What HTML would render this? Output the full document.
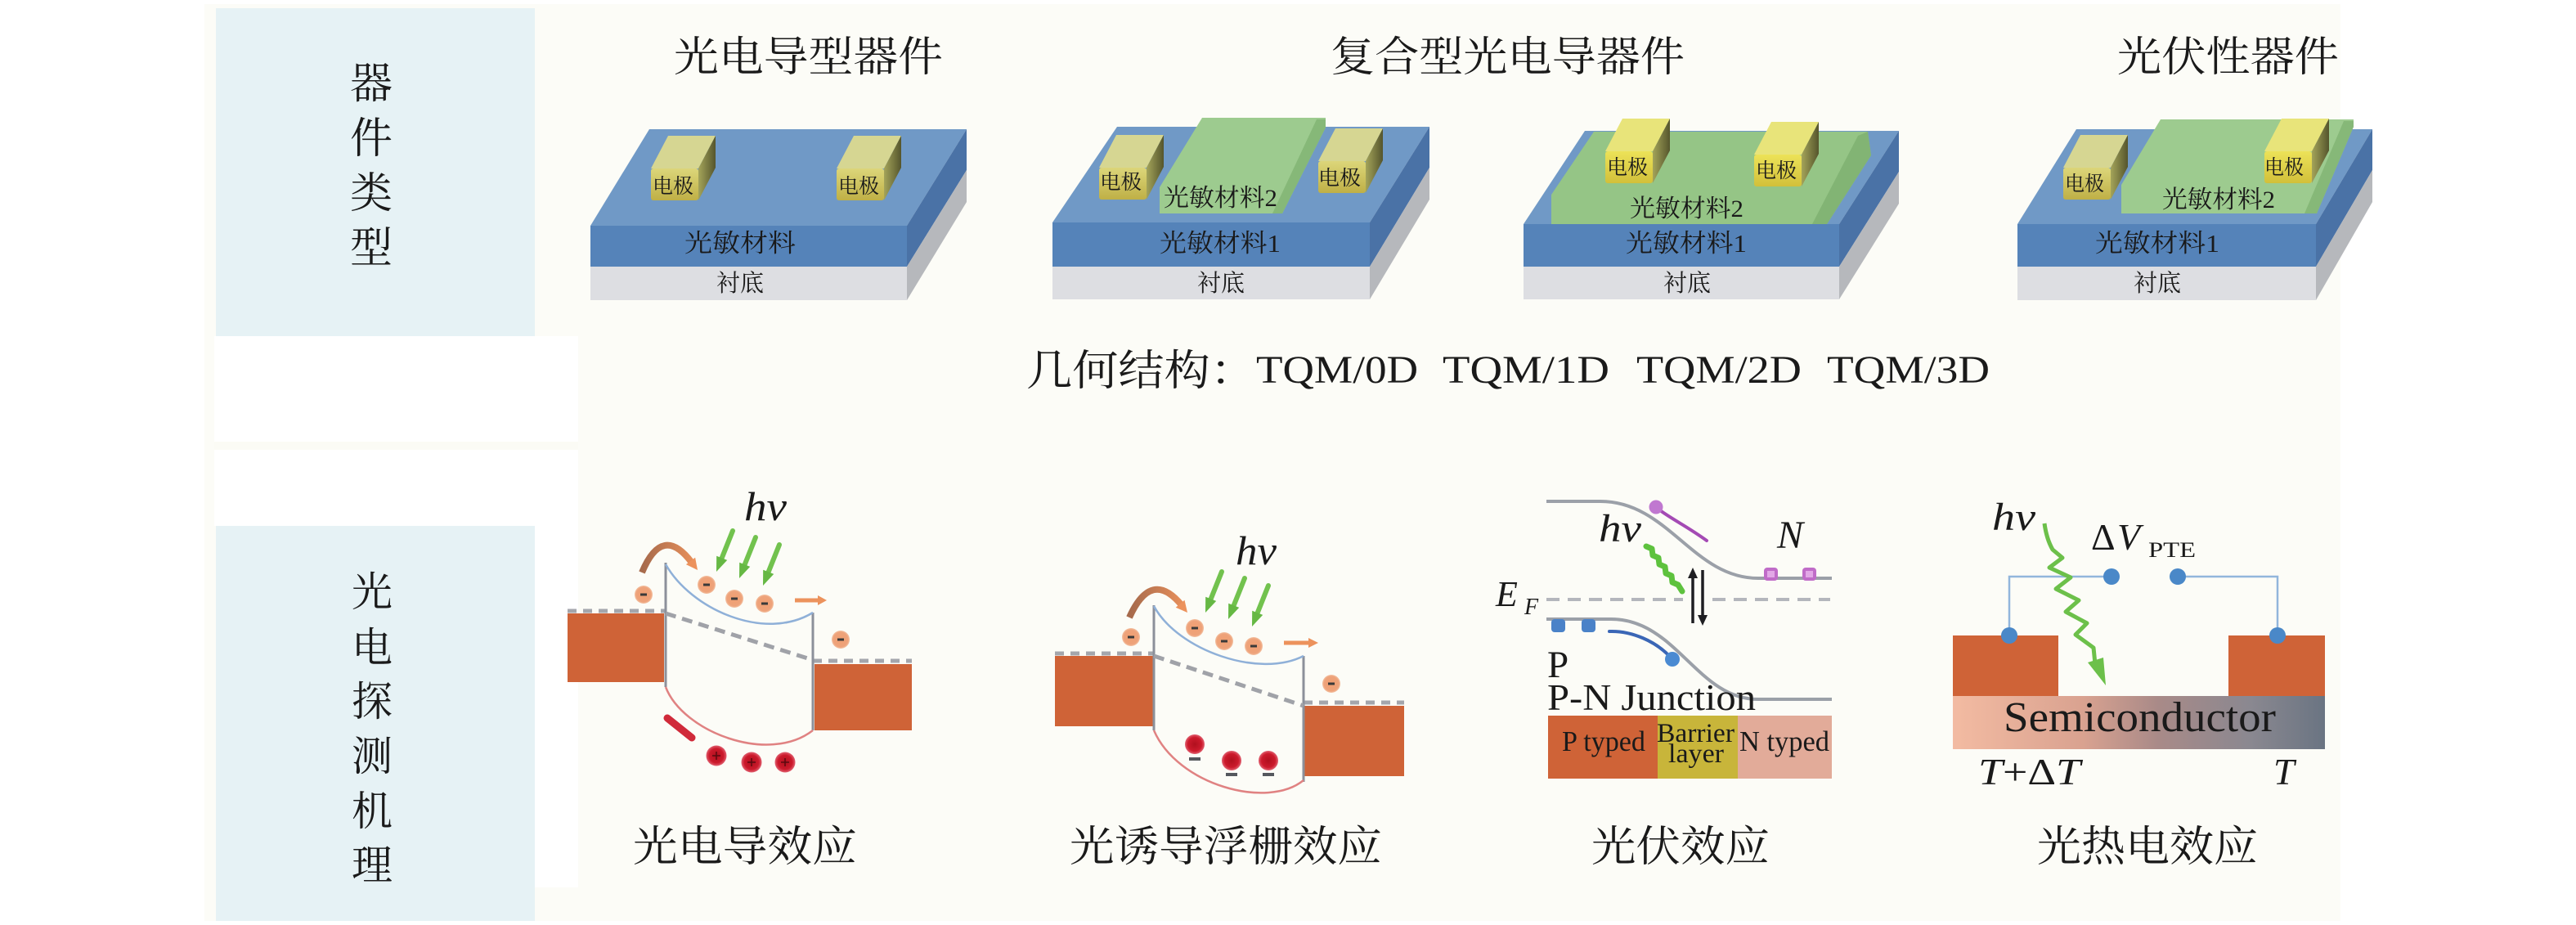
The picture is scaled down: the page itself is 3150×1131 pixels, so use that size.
<!DOCTYPE html>
<html>
<head>
<meta charset="utf-8">
<style>
html,body{margin:0;padding:0;background:#ffffff;}
svg{display:block;}
.cn{font-family:"Liberation Serif","Noto Serif CJK SC",serif;fill:#1a1a1a;}
.lt{font-family:"Liberation Serif",serif;fill:#1a1a1a;}
.it{font-family:"Liberation Serif",serif;font-style:italic;fill:#1a1a1a;}
</style>
</head>
<body>
<svg width="3150" height="1131" viewBox="0 0 3150 1131" xmlns="http://www.w3.org/2000/svg">
<defs>
  <linearGradient id="elR" x1="0" y1="0" x2="1" y2="0">
    <stop offset="0" stop-color="#a4a45a"/>
    <stop offset="1" stop-color="#55552c"/>
  </linearGradient>
  <linearGradient id="elF" x1="0" y1="0" x2="0" y2="1">
    <stop offset="0" stop-color="#dcd67a"/>
    <stop offset="1" stop-color="#bfb046"/>
  </linearGradient>
  <linearGradient id="elFb" x1="0" y1="0" x2="0" y2="1">
    <stop offset="0" stop-color="#ece258"/>
    <stop offset="1" stop-color="#d2c03a"/>
  </linearGradient>
  <linearGradient id="semi" x1="0" y1="0" x2="1" y2="0">
    <stop offset="0" stop-color="#f3bba2"/>
    <stop offset="0.35" stop-color="#d9a290"/>
    <stop offset="0.55" stop-color="#a98a88"/>
    <stop offset="0.8" stop-color="#8a8890"/>
    <stop offset="1" stop-color="#6a7482"/>
  </linearGradient>
  <linearGradient id="arc1" gradientUnits="userSpaceOnUse" x1="785" y1="0" x2="853" y2="0">
    <stop offset="0" stop-color="#a66a4c"/>
    <stop offset="1" stop-color="#ec925c"/>
  </linearGradient>
  <linearGradient id="arc2" gradientUnits="userSpaceOnUse" x1="1381" y1="0" x2="1452" y2="0">
    <stop offset="0" stop-color="#a66a4c"/>
    <stop offset="1" stop-color="#ec925c"/>
  </linearGradient>
  <radialGradient id="hole" cx="0.5" cy="0.5" r="0.5">
    <stop offset="0" stop-color="#b0101e"/>
    <stop offset="0.7" stop-color="#cc1a2c"/>
    <stop offset="1" stop-color="#e06070"/>
  </radialGradient>
  <radialGradient id="elec" cx="0.5" cy="0.5" r="0.5">
    <stop offset="0" stop-color="#f0a072"/>
    <stop offset="0.8" stop-color="#eea27a"/>
    <stop offset="1" stop-color="#f3c0a0"/>
  </radialGradient>
</defs>

<!-- backgrounds -->
<rect x="250" y="5" width="2612" height="1121" fill="#fcfcf7"/>
<rect x="262" y="411" width="445" height="232" fill="#ffffff"/>
<rect x="262" y="540" width="445" height="10" fill="#fbfbf5"/>
<rect x="654" y="643" width="53" height="442" fill="#ffffff"/>
<rect x="264" y="10" width="390" height="401" fill="#e6f2f5"/>
<rect x="264" y="643" width="390" height="483" fill="#e6f2f5"/>

<!-- left panel labels -->
<g class="cn" font-size="52" text-anchor="middle">
  <text x="454" y="120">器</text>
  <text x="454" y="187">件</text>
  <text x="454" y="254">类</text>
  <text x="454" y="321">型</text>
</g>
<g class="cn" font-size="50" text-anchor="middle">
  <text x="455" y="741">光</text>
  <text x="455" y="809">电</text>
  <text x="455" y="875">探</text>
  <text x="455" y="942">测</text>
  <text x="455" y="1009">机</text>
  <text x="455" y="1075">理</text>
</g>

<!-- titles -->
<text class="cn" x="824" y="87" font-size="51" textLength="329" lengthAdjust="spacingAndGlyphs">光电导型器件</text>
<text class="cn" x="1627" y="87" font-size="51" textLength="433" lengthAdjust="spacingAndGlyphs">复合型光电导器件</text>
<text class="cn" x="2589" y="87" font-size="51" textLength="271" lengthAdjust="spacingAndGlyphs">光伏性器件</text>

<!-- ===== Device 1 ===== -->
<polygon points="794,158 1182,158 1109,276 722,276" fill="#7099c6"/>
<rect x="722" y="276" width="387" height="50" fill="#5583b9"/>
<polygon points="1109,276 1182,158 1182,208 1109,326" fill="#4a72a6"/>
<rect x="722" y="326" width="387" height="41" fill="#dddee2"/>
<polygon points="1109,326 1182,208 1182,247 1109,367" fill="#b6b8bc"/>
<g transform="translate(796,245)">
  <polygon points="0,-39 58,-39 79,-79 21,-79" fill="#d6d692"/>
  <polygon points="58,-39 79,-79 79,-40 58,0" fill="url(#elR)"/>
  <rect x="0" y="-39" width="58" height="39" rx="3" fill="url(#elF)"/>
</g>
<g transform="translate(1023,245)">
  <polygon points="0,-39 58,-39 79,-79 21,-79" fill="#d6d692"/>
  <polygon points="58,-39 79,-79 79,-40 58,0" fill="url(#elR)"/>
  <rect x="0" y="-39" width="58" height="39" rx="3" fill="url(#elF)"/>
</g>
<text class="cn" x="798" y="236" font-size="25" textLength="50" lengthAdjust="spacingAndGlyphs">电极</text>
<text class="cn" x="1025" y="236" font-size="25" textLength="50" lengthAdjust="spacingAndGlyphs">电极</text>
<text class="cn" x="837" y="308" font-size="31" textLength="136" lengthAdjust="spacingAndGlyphs">光敏材料</text>
<text class="cn" x="876" y="356" font-size="29" textLength="58" lengthAdjust="spacingAndGlyphs">衬底</text>

<!-- ===== Device 2 ===== -->
<polygon points="1366,155 1748,155 1675,272 1287,272" fill="#7099c6"/>
<rect x="1287" y="272" width="388" height="54" fill="#5583b9"/>
<polygon points="1675,272 1748,155 1748,205 1675,326" fill="#4a72a6"/>
<rect x="1287" y="326" width="388" height="40" fill="#dddee2"/>
<polygon points="1675,326 1748,205 1748,244 1675,366" fill="#b6b8bc"/>
<g transform="translate(1344,244)">
  <polygon points="0,-39 58,-39 79,-79 21,-79" fill="#d6d692"/>
  <polygon points="58,-39 79,-79 79,-40 58,0" fill="url(#elR)"/>
  <rect x="0" y="-39" width="58" height="39" rx="3" fill="url(#elF)"/>
</g>
<g transform="translate(1612,236)">
  <polygon points="0,-39 58,-39 79,-79 21,-79" fill="#d6d692"/>
  <polygon points="58,-39 79,-79 79,-40 58,0" fill="url(#elR)"/>
  <rect x="0" y="-39" width="58" height="39" rx="3" fill="url(#elF)"/>
</g>
<polygon points="1470,144 1621,144 1621,156 1568,261 1418,261 1418,229" fill="#9dcb8f"/>
<polygon points="1610,146 1621,146 1621,156 1568,261 1556,261" fill="#86b878"/>
<text class="cn" x="1345" y="231" font-size="25" textLength="51" lengthAdjust="spacingAndGlyphs">电极</text>
<text class="cn" x="1612" y="226" font-size="25" textLength="52" lengthAdjust="spacingAndGlyphs">电极</text>
<text class="cn" x="1423" y="252" font-size="30" textLength="139" lengthAdjust="spacingAndGlyphs">光敏材料2</text>
<text class="cn" x="1418" y="308" font-size="31" textLength="148" lengthAdjust="spacingAndGlyphs">光敏材料1</text>
<text class="cn" x="1464" y="356" font-size="29" textLength="58" lengthAdjust="spacingAndGlyphs">衬底</text>

<!-- ===== Device 3 ===== -->
<polygon points="1938,160 2322,160 2249,274 1863,274" fill="#7099c6"/>
<rect x="1863" y="274" width="386" height="52" fill="#5583b9"/>
<polygon points="2249,274 2322,160 2322,210 2249,326" fill="#4a72a6"/>
<rect x="1863" y="326" width="386" height="40" fill="#dddee2"/>
<polygon points="2249,326 2322,210 2322,249 2249,366" fill="#b6b8bc"/>
<polygon points="1949,161 2284,161 2288,190 2234,274 1897,274 1897,238" fill="#95c586"/>
<polygon points="2272,166 2284,161 2288,190 2234,274 2216,274" fill="#82b474"/>
<g transform="translate(1963,224)">
  <polygon points="0,-39 58,-39 79,-79 21,-79" fill="#e8e47a"/>
  <polygon points="58,-39 79,-79 79,-40 58,0" fill="url(#elR)"/>
  <rect x="0" y="-39" width="58" height="39" rx="3" fill="url(#elFb)"/>
</g>
<g transform="translate(2145,228)">
  <polygon points="0,-39 58,-39 79,-79 21,-79" fill="#e8e47a"/>
  <polygon points="58,-39 79,-79 79,-40 58,0" fill="url(#elR)"/>
  <rect x="0" y="-39" width="58" height="39" rx="3" fill="url(#elFb)"/>
</g>
<text class="cn" x="1965" y="213" font-size="25" textLength="50" lengthAdjust="spacingAndGlyphs">电极</text>
<text class="cn" x="2147" y="217" font-size="25" textLength="50" lengthAdjust="spacingAndGlyphs">电极</text>
<text class="cn" x="1993" y="265" font-size="30" textLength="139" lengthAdjust="spacingAndGlyphs">光敏材料2</text>
<text class="cn" x="1988" y="308" font-size="31" textLength="148" lengthAdjust="spacingAndGlyphs">光敏材料1</text>
<text class="cn" x="2034" y="356" font-size="29" textLength="58" lengthAdjust="spacingAndGlyphs">衬底</text>

<!-- ===== Device 4 ===== -->
<polygon points="2539,158 2901,158 2832,274 2467,274" fill="#7099c6"/>
<rect x="2467" y="274" width="365" height="52" fill="#5583b9"/>
<polygon points="2832,274 2901,158 2901,208 2832,326" fill="#4a72a6"/>
<rect x="2467" y="326" width="365" height="41" fill="#dddee2"/>
<polygon points="2832,326 2901,208 2901,247 2832,367" fill="#b6b8bc"/>
<g transform="translate(2523,244)">
  <polygon points="0,-39 58,-39 79,-79 21,-79" fill="#d6d692"/>
  <polygon points="58,-39 79,-79 79,-40 58,0" fill="url(#elR)"/>
  <rect x="0" y="-39" width="58" height="39" rx="3" fill="url(#elF)"/>
</g>
<polygon points="2642,146 2878,146 2878,155 2833,261 2594,261 2594,226" fill="#9dcb8f"/>
<polygon points="2866,148 2878,148 2878,155 2833,261 2818,261" fill="#86b878"/>
<g transform="translate(2769,224)">
  <polygon points="0,-39 58,-39 79,-79 21,-79" fill="#e8e47a"/>
  <polygon points="58,-39 79,-79 79,-40 58,0" fill="url(#elR)"/>
  <rect x="0" y="-39" width="58" height="39" rx="3" fill="url(#elFb)"/>
</g>
<text class="cn" x="2525" y="233" font-size="25" textLength="48" lengthAdjust="spacingAndGlyphs">电极</text>
<text class="cn" x="2769" y="213" font-size="25" textLength="48" lengthAdjust="spacingAndGlyphs">电极</text>
<text class="cn" x="2644" y="254" font-size="30" textLength="138" lengthAdjust="spacingAndGlyphs">光敏材料2</text>
<text class="cn" x="2562" y="308" font-size="31" textLength="152" lengthAdjust="spacingAndGlyphs">光敏材料1</text>
<text class="cn" x="2609" y="356" font-size="29" textLength="58" lengthAdjust="spacingAndGlyphs">衬底</text>

<!-- geometry line -->
<text class="cn" x="1255" y="471" font-size="52" textLength="281" lengthAdjust="spacingAndGlyphs">几何结构：</text>
<text class="lt" x="1536" y="468" font-size="48" textLength="198" lengthAdjust="spacingAndGlyphs">TQM/0D</text>
<text class="lt" x="1764" y="468" font-size="48" textLength="204" lengthAdjust="spacingAndGlyphs">TQM/1D</text>
<text class="lt" x="2001" y="468" font-size="48" textLength="202" lengthAdjust="spacingAndGlyphs">TQM/2D</text>
<text class="lt" x="2234" y="468" font-size="48" textLength="199" lengthAdjust="spacingAndGlyphs">TQM/3D</text>

<!-- ===== Mechanism 1 ===== -->
<text class="it" x="910" y="636" font-size="50" textLength="52" lengthAdjust="spacingAndGlyphs">hv</text>
<rect x="694" y="750" width="118" height="84" fill="#cf6337"/>
<line x1="694" y1="747" x2="814" y2="747" stroke="#a4a6ac" stroke-width="5" stroke-dasharray="11 8"/>
<rect x="996" y="812" width="119" height="81" fill="#cf6337"/>
<line x1="994" y1="808" x2="1115" y2="808" stroke="#a4a6ac" stroke-width="5" stroke-dasharray="11 8"/>
<line x1="814" y1="688" x2="814" y2="840" stroke="#8c909a" stroke-width="3"/>
<line x1="994" y1="749" x2="994" y2="893" stroke="#8c909a" stroke-width="3"/>
<path d="M814,690 C845,745 935,785 994,749" fill="none" stroke="#8fb0d8" stroke-width="2.5"/>
<line x1="814" y1="750" x2="994" y2="807" stroke="#a0a2a8" stroke-width="5" stroke-dasharray="13 8"/>
<path d="M814,840 C835,895 940,935 994,893" fill="none" stroke="#e08282" stroke-width="2.5"/>
<path d="M785,700 Q810,640 846,688" fill="none" stroke="url(#arc1)" stroke-width="8"/>
<polygon points="853,697 850.1,681.7 838.9,690.1" fill="#ec925c"/>
<g stroke="#72c24e" stroke-width="6" stroke-linecap="round">
  <line x1="896" y1="649" x2="882.7" y2="682.3"/>
  <line x1="924" y1="657" x2="910.7" y2="690.3"/>
  <line x1="953" y1="666" x2="939.7" y2="699.3"/>
</g>
<g fill="#66b844">
  <polygon points="876,699 889.2,684.9 876.2,679.7"/>
  <polygon points="904,707 917.2,692.9 904.2,687.7"/>
  <polygon points="933,716 946.2,701.9 933.2,696.7"/>
</g>
<g>
  <circle cx="787" cy="727" r="11" fill="url(#elec)"/>
  <circle cx="864" cy="715" r="11" fill="url(#elec)"/>
  <circle cx="898" cy="732" r="11" fill="url(#elec)"/>
  <circle cx="935" cy="738" r="11" fill="url(#elec)"/>
  <circle cx="1028" cy="782" r="11" fill="url(#elec)"/>
</g>
<g fill="#3a3a3a">
  <rect x="783" y="725.5" width="8" height="3"/>
  <rect x="860" y="713.5" width="8" height="3"/>
  <rect x="894" y="730.5" width="8" height="3"/>
  <rect x="931" y="736.5" width="8" height="3"/>
  <rect x="1024" y="780.5" width="8" height="3"/>
</g>
<line x1="972" y1="734" x2="1000" y2="734" stroke="#ec925c" stroke-width="5"/>
<polygon points="1000,728 1011,734 1000,740" fill="#ec925c"/>
<line x1="816" y1="878" x2="846" y2="902" stroke="#d02a3a" stroke-width="9" stroke-linecap="round"/>
<g>
  <circle cx="876" cy="924" r="12.5" fill="url(#hole)"/>
  <circle cx="919" cy="932" r="12.5" fill="url(#hole)"/>
  <circle cx="960" cy="932" r="12.5" fill="url(#hole)"/>
</g>
<g stroke="#5a0a10" stroke-width="1.5">
  <line x1="871" y1="924" x2="881" y2="924"/><line x1="876" y1="919" x2="876" y2="929"/>
  <line x1="914" y1="932" x2="924" y2="932"/><line x1="919" y1="927" x2="919" y2="937"/>
  <line x1="955" y1="932" x2="965" y2="932"/><line x1="960" y1="927" x2="960" y2="937"/>
</g>
<text class="cn" x="774" y="1053" font-size="52" textLength="274" lengthAdjust="spacingAndGlyphs">光电导效应</text>

<!-- ===== Mechanism 2 ===== -->
<text class="it" x="1511" y="690" font-size="50" textLength="50" lengthAdjust="spacingAndGlyphs">hv</text>
<rect x="1290" y="802" width="122" height="86" fill="#cf6337"/>
<line x1="1290" y1="799" x2="1411" y2="799" stroke="#a4a6ac" stroke-width="5" stroke-dasharray="11 8"/>
<rect x="1595" y="863" width="122" height="86" fill="#cf6337"/>
<line x1="1594" y1="859" x2="1717" y2="859" stroke="#a4a6ac" stroke-width="5" stroke-dasharray="11 8"/>
<line x1="1411" y1="740" x2="1411" y2="893" stroke="#8c909a" stroke-width="3"/>
<line x1="1594" y1="802" x2="1594" y2="956" stroke="#8c909a" stroke-width="3"/>
<path d="M1411,741 C1440,795 1540,830 1594,802" fill="none" stroke="#8fb0d8" stroke-width="2.5"/>
<line x1="1411" y1="802" x2="1594" y2="863" stroke="#a0a2a8" stroke-width="5" stroke-dasharray="13 8"/>
<path d="M1411,893 C1440,960 1550,990 1594,954" fill="none" stroke="#e08282" stroke-width="2.5"/>
<path d="M1381,755 Q1408,695 1445,740" fill="none" stroke="url(#arc2)" stroke-width="8"/>
<polygon points="1452,749 1448.5,733.7 1437.7,742.7" fill="#ec925c"/>
<g stroke="#72c24e" stroke-width="6" stroke-linecap="round">
  <line x1="1494" y1="699" x2="1480.7" y2="732.3"/>
  <line x1="1522" y1="707" x2="1508.7" y2="740.3"/>
  <line x1="1551" y1="716" x2="1537.7" y2="749.3"/>
</g>
<g fill="#66b844">
  <polygon points="1474,749 1487.2,734.9 1474.2,729.7"/>
  <polygon points="1502,757 1515.2,742.9 1502.2,737.7"/>
  <polygon points="1531,766 1544.2,751.9 1531.2,746.7"/>
</g>
<g>
  <circle cx="1383" cy="779" r="11" fill="url(#elec)"/>
  <circle cx="1461" cy="768" r="11" fill="url(#elec)"/>
  <circle cx="1497" cy="784" r="11" fill="url(#elec)"/>
  <circle cx="1533" cy="790" r="11" fill="url(#elec)"/>
  <circle cx="1628" cy="836" r="11" fill="url(#elec)"/>
</g>
<g fill="#3a3a3a">
  <rect x="1379" y="777.5" width="8" height="3"/>
  <rect x="1457" y="766.5" width="8" height="3"/>
  <rect x="1493" y="782.5" width="8" height="3"/>
  <rect x="1529" y="788.5" width="8" height="3"/>
  <rect x="1624" y="834.5" width="8" height="3"/>
</g>
<line x1="1570" y1="786" x2="1600" y2="786" stroke="#ec925c" stroke-width="5"/>
<polygon points="1600,780 1612,786 1600,792" fill="#ec925c"/>
<g>
  <circle cx="1461" cy="910" r="12" fill="url(#hole)"/>
  <circle cx="1506" cy="930" r="12" fill="url(#hole)"/>
  <circle cx="1551" cy="930" r="12" fill="url(#hole)"/>
</g>
<g fill="#55585e">
  <rect x="1454" y="926" width="14" height="4"/>
  <rect x="1499" y="945" width="14" height="4"/>
  <rect x="1544" y="945" width="14" height="4"/>
</g>
<text class="cn" x="1308" y="1053" font-size="52" textLength="382" lengthAdjust="spacingAndGlyphs">光诱导浮栅效应</text>

<!-- ===== Mechanism 3 ===== -->
<path d="M1891,613 L1957,613 C2040,613 2070,707 2150,707 L2240,707" fill="none" stroke="#9ba0a8" stroke-width="4"/>
<path d="M1891,757 L1970,757 C2050,757 2075,855 2150,855 L2240,855" fill="none" stroke="#9ba0a8" stroke-width="4"/>
<line x1="1891" y1="733" x2="2058" y2="733" stroke="#b4b6bc" stroke-width="4" stroke-dasharray="16 10"/>
<line x1="2094" y1="733" x2="2238" y2="733" stroke="#b4b6bc" stroke-width="4" stroke-dasharray="16 10"/>
<text class="it" x="1829" y="741" font-size="44">E</text>
<text class="it" x="1864" y="751" font-size="28">F</text>
<text class="it" x="1955" y="662" font-size="48" textLength="52" lengthAdjust="spacingAndGlyphs">hv</text>
<text class="it" x="2173" y="670" font-size="48">N</text>
<polyline points="2013,668 2020,671 2021,679 2028,682 2029,690 2036,693 2037,701 2044,704 2045,712 2052,715 2057,723" fill="none" stroke="#5ec23e" stroke-width="7" stroke-linejoin="round" stroke-linecap="round"/>
<line x1="2070" y1="762" x2="2070" y2="706" stroke="#1e1e22" stroke-width="3.5"/>
<polygon points="2064,707 2070,694 2076,707" fill="#1e1e22"/>
<line x1="2082" y1="697" x2="2082" y2="753" stroke="#1e1e22" stroke-width="3.5"/>
<polygon points="2076,752 2082,765 2088,752" fill="#1e1e22"/>
<path d="M2030,624 C2045,635 2065,645 2087,661" fill="none" stroke="#a44ab4" stroke-width="4" stroke-linecap="round"/>
<circle cx="2025" cy="620" r="8.5" fill="#c078d0"/>
<rect x="2157" y="694" width="17" height="16" rx="4" fill="#c06cc8"/>
<rect x="2204" y="694" width="17" height="16" rx="4" fill="#c06cc8"/>
<rect x="2161" y="698" width="9" height="8" fill="#e2a8e6"/>
<rect x="2208" y="698" width="9" height="8" fill="#e2a8e6"/>
<rect x="1897" y="757" width="17" height="16" rx="4" fill="#4a82c8"/>
<rect x="1934" y="757" width="17" height="16" rx="4" fill="#4a82c8"/>
<path d="M1968,772 C1995,771 2025,784 2043,804" fill="none" stroke="#3a66b6" stroke-width="4" stroke-linecap="round"/>
<circle cx="2045" cy="806" r="9" fill="#4a8ad2"/>
<text class="lt" x="1892" y="828" font-size="47">P</text>
<text class="lt" x="1892" y="868" font-size="45" textLength="255" lengthAdjust="spacingAndGlyphs">P-N Junction</text>
<rect x="1893" y="875" width="134" height="77" fill="#cf6337"/>
<rect x="2027" y="875" width="98" height="77" fill="#c8b53a"/>
<rect x="2125" y="875" width="115" height="77" fill="#e2ab99"/>
<text class="lt" x="1910" y="918" font-size="35" textLength="102" lengthAdjust="spacingAndGlyphs">P typed</text>
<text class="lt" x="2026" y="907" font-size="33" textLength="95" lengthAdjust="spacingAndGlyphs">Barrier</text>
<text class="lt" x="2040" y="932" font-size="33" textLength="68" lengthAdjust="spacingAndGlyphs">layer</text>
<text class="lt" x="2127" y="918" font-size="35" textLength="110" lengthAdjust="spacingAndGlyphs">N typed</text>
<text class="cn" x="1946" y="1053" font-size="52" textLength="218" lengthAdjust="spacingAndGlyphs">光伏效应</text>

<!-- ===== Mechanism 4 ===== -->
<text class="it" x="2436" y="648" font-size="48" textLength="53" lengthAdjust="spacingAndGlyphs">hv</text>
<text class="lt" x="2557" y="672" font-size="46">Δ</text>
<text class="it" x="2589" y="672" font-size="46">V</text>
<text class="lt" x="2627" y="681" font-size="26" textLength="58" lengthAdjust="spacingAndGlyphs">PTE</text>
<polyline points="2457,777 2457,705 2582,705" fill="none" stroke="#92b6dc" stroke-width="2.5"/>
<polyline points="2663,705 2785,705 2785,777" fill="none" stroke="#92b6dc" stroke-width="2.5"/>
<rect x="2388" y="777" width="129" height="74" fill="#cf6337"/>
<rect x="2725" y="777" width="118" height="74" fill="#cf6337"/>
<rect x="2388" y="851" width="455" height="65" fill="url(#semi)"/>
<circle cx="2457" cy="777" r="10" fill="#4a88c8"/>
<circle cx="2582" cy="705" r="10" fill="#4a88c8"/>
<circle cx="2663" cy="705" r="10" fill="#4a88c8"/>
<circle cx="2785" cy="777" r="10" fill="#4a88c8"/>
<path d="M2500,640 C2502,655 2506,665 2510,672 L2522,682 L2506,694 L2532,706 L2514,720 L2542,734 L2526,748 L2552,762 L2538,776 L2560,792 L2562,812" fill="none" stroke="#6cc04a" stroke-width="5" stroke-linejoin="round"/>
<polygon points="2553,810 2575,838 2572,804" fill="#6cc04a"/>
<text class="lt" x="2450" y="894" font-size="52" textLength="333" lengthAdjust="spacingAndGlyphs">Semiconductor</text>
<text x="2419" y="959" font-size="46" class="lt" textLength="125" lengthAdjust="spacingAndGlyphs"><tspan font-style="italic">T</tspan>+Δ<tspan font-style="italic">T</tspan></text>
<text class="it" x="2780" y="959" font-size="46">T</text>
<text class="cn" x="2491" y="1053" font-size="52" textLength="270" lengthAdjust="spacingAndGlyphs">光热电效应</text>
</svg>
</body>
</html>
